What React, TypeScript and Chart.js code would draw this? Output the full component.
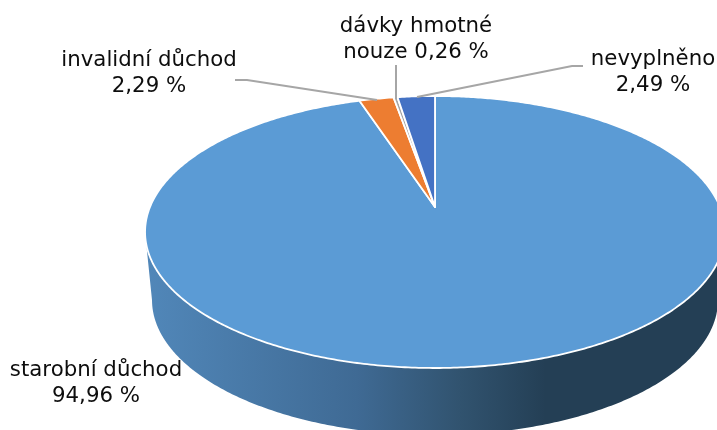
import React, { useEffect, useRef } from "react";
import { Chart, registerables } from "chart.js";

Chart.register(...registerables);

// Pension-type shares, clockwise from twelve o'clock
const categories = ["starobní důchod", "invalidní důchod", "dávky hmotné nouze", "nevyplněno"];
const shares = [94.96, 2.29, 0.26, 2.49];
const sliceColors = ["#5B9BD5", "#ED7D31", "#A5A5A5", "#4472C4"];

// Label blocks: wrapped text, centre x, baselines, then the leader polyline
const percentText = (i: number) => `${shares[i].toFixed(2).replace(".", ",")} %`;
const labelBlocks = [
  { lines: ["starobní důchod", percentText(0)], x: 96, y: [376, 402], leader: [] as number[][] },
  { lines: ["invalidní důchod", percentText(1)], x: 149, y: [66, 92], leader: [[235, 80], [247, 80], [377, 100]] },
  { lines: ["dávky hmotné", `nouze ${percentText(2)}`], x: 416, y: [32, 58], leader: [[396, 65], [396, 99]] },
  { lines: ["nevyplněno", percentText(3)], x: 653, y: [65, 91], leader: [[583, 66], [572, 66], [417, 97]] },
];

// Perspective of the tilted disc: the apex sits above the centre of the visible ellipse
const APEX_X = 435;
const APEX_Y = 207;
const FAR_RADIUS = 111;
const NEAR_RADIUS = 161;
const HALF_WIDTH = 285;
const PERSPECTIVE = (FAR_RADIUS - NEAR_RADIUS) / (FAR_RADIUS + NEAR_RADIUS);
const DEPTH_SCALE = FAR_RADIUS * (1 - PERSPECTIVE);

const project = (angle: number) => {
  const u = Math.cos(angle);
  const v = Math.sin(angle);
  const w = 1 + PERSPECTIVE * v;
  return { x: APEX_X + (HALF_WIDTH * u) / w, y: APEX_Y + (DEPTH_SCALE * v) / w };
};

// Lower rim of the disc's thickness
const RIM_CENTRE_Y = 232;
const RIM_DROP = 68;
const projectLower = (angle: number) => {
  const p = project(angle);
  return { x: APEX_X + (p.x - APEX_X) * 0.976, y: RIM_CENTRE_Y + (p.y - RIM_CENTRE_Y) * 0.993 + RIM_DROP };
};

const traceArc = (
  ctx: CanvasRenderingContext2D,
  from: number,
  to: number,
  map: (a: number) => { x: number; y: number },
) => {
  const steps = Math.max(2, Math.ceil(Math.abs(to - from) / 0.01));
  for (let i = 0; i <= steps; i++) {
    const p = map(from + ((to - from) * i) / steps);
    ctx.lineTo(p.x, p.y);
  }
};

const projectedPie = {
  id: "projectedPie",
  beforeDatasetDraw(chart: any) {
    const ctx: CanvasRenderingContext2D = chart.ctx;
    const arcs = chart.getDatasetMeta(0).data;

    // Side wall, between the horizontal extremes of the ellipse
    const left = Math.PI - 0.186;
    const right = 0.186;
    const wall = ctx.createLinearGradient(146, 0, 717, 0);
    wall.addColorStop(0, "#5187B9");
    wall.addColorStop(0.37, "#3F6A94");
    wall.addColorStop(0.55, "#31536F");
    wall.addColorStop(0.7, "#243F55");
    wall.addColorStop(1, "#243F55");
    ctx.save();
    ctx.beginPath();
    traceArc(ctx, left, right, project);
    traceArc(ctx, right, left, projectLower);
    ctx.closePath();
    ctx.fillStyle = wall;
    ctx.fill();

    // Top face, one projected wedge per slice
    arcs.forEach((arc: any, i: number) => {
      const { startAngle, endAngle } = arc.getProps(["startAngle", "endAngle"], true);
      ctx.beginPath();
      ctx.moveTo(APEX_X, APEX_Y);
      traceArc(ctx, startAngle, endAngle, project);
      ctx.closePath();
      ctx.fillStyle = sliceColors[i];
      ctx.fill();
      ctx.strokeStyle = "#FFFFFF";
      ctx.lineWidth = 1.8;
      ctx.lineJoin = "round";
      ctx.stroke();
    });
    ctx.restore();
    return false;
  },
  afterDatasetsDraw(chart: any) {
    const ctx: CanvasRenderingContext2D = chart.ctx;
    ctx.save();
    ctx.strokeStyle = "#A6A6A6";
    ctx.lineWidth = 2;
    labelBlocks.forEach((block) => {
      if (!block.leader.length) return;
      ctx.beginPath();
      block.leader.forEach(([x, y], i) => (i ? ctx.lineTo(x, y) : ctx.moveTo(x, y)));
      ctx.stroke();
    });
    ctx.font = '21.3px "DejaVu Sans"';
    ctx.fillStyle = "#0D0D0D";
    ctx.textAlign = "center";
    ctx.textBaseline = "alphabetic";
    labelBlocks.forEach((block) => {
      block.lines.forEach((line, i) => ctx.fillText(line, block.x, block.y[i]));
    });
    ctx.restore();
  },
};

export default function App() {
  const canvasRef = useRef<HTMLCanvasElement>(null);

  useEffect(() => {
    const chart = new Chart(canvasRef.current!, {
      type: "pie",
      data: {
        labels: categories,
        datasets: [{ data: shares, backgroundColor: sliceColors, borderColor: "#FFFFFF" }],
      },
      options: {
        responsive: false,
        animation: false,
        devicePixelRatio: 1,
        plugins: { legend: { display: false }, tooltip: { enabled: false } },
      },
      plugins: [projectedPie],
    } as any);
    return () => chart.destroy();
  }, []);

  return (
    <div style={{ position: "fixed", left: 0, top: 0, width: 717, height: 430, background: "#FFFFFF" }}>
      <canvas ref={canvasRef} width={717} height={430} style={{ display: "block" }} />
    </div>
  );
}
